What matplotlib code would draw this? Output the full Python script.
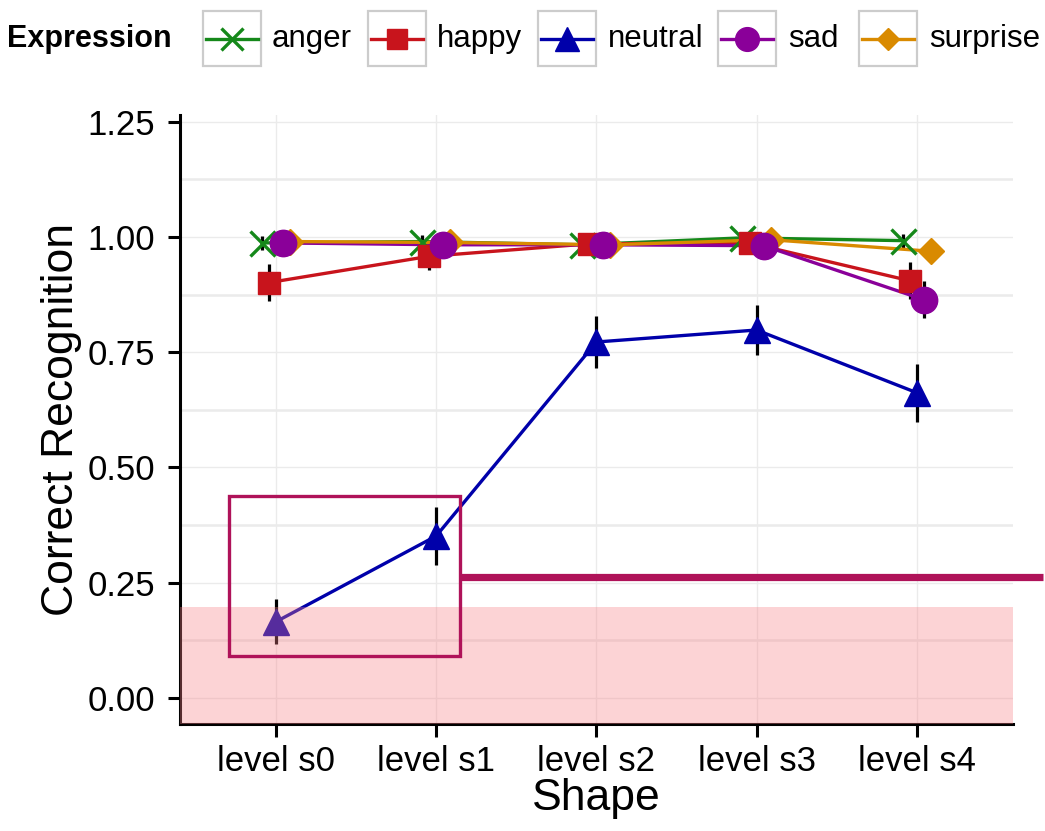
import matplotlib
matplotlib.use("Agg")
import matplotlib.pyplot as plt
from matplotlib.lines import Line2D
from matplotlib.patches import Rectangle
import numpy as np

plt.rcParams['font.family'] = ['Liberation Sans', 'DejaVu Sans']

# DATA
levels = ['level s0', 'level s1', 'level s2', 'level s3', 'level s4']
expressions = ['anger', 'happy', 'neutral', 'sad', 'surprise']

anger = [0.987, 0.990, 0.983, 0.998, 0.992]
happy = [0.901, 0.958, 0.985, 0.987, 0.905]
neutral = [0.165, 0.351, 0.772, 0.798, 0.662]
sad = [0.987, 0.983, 0.983, 0.981, 0.864]
surprise = [0.990, 0.988, 0.983, 0.994, 0.969]

anger_se = [0.015, 0.015, 0.015, 0.010, 0.015]
happy_se = [0.041, 0.030, 0.015, 0.015, 0.040]
neutral_se = [0.049, 0.062, 0.057, 0.055, 0.063]
sad_se = [0.015, 0.015, 0.010, 0.015, 0.041]
surprise_se = [0.010, 0.010, 0.010, 0.010, 0.020]

chance_level = 0.196      # shaded band top
hl_x = [-0.293, 1.149]    # highlight box
hl_y = [0.091, 0.438]
hl_line_y = 0.263

# STYLE
colors = {'anger': '#15881A', 'happy': '#C8141C', 'neutral': '#0000AA',
          'sad': '#8A0099', 'surprise': '#D98A00'}
markers = {'anger': 'x', 'happy': 's', 'neutral': '^', 'sad': 'o', 'surprise': 'D'}
msizes = {'anger': 18, 'happy': 16.5, 'neutral': 19, 'sad': 19, 'surprise': 13}
values = {'anger': anger, 'happy': happy, 'neutral': neutral, 'sad': sad, 'surprise': surprise}
errors = {'anger': anger_se, 'happy': happy_se, 'neutral': neutral_se, 'sad': sad_se,
          'surprise': surprise_se}
dodge = {'anger': -0.088, 'happy': -0.044, 'neutral': 0.0, 'sad': 0.044, 'surprise': 0.088}
pzorder = {'anger': 4, 'happy': 4.2, 'neutral': 4.1, 'sad': 4.4, 'surprise': 4.3}

fig = plt.figure(figsize=(10.45, 8.31), dpi=100)
ax = fig.add_axes([0.1722, 0.1288, 0.797, 0.733])

x = np.arange(len(levels))

# grid
for yy in np.arange(0.125, 1.26, 0.25):
    ax.axhline(yy, color='#EBEBEB', lw=1.8, zorder=0)
for yy in np.arange(0, 1.26, 0.25):
    ax.axhline(yy, color='#EBEBEB', lw=1.0, zorder=0)
for xx in x:
    ax.axvline(xx, color='#EBEBEB', lw=1.0, zorder=0)

for e in expressions:
    xs = x + dodge[e]
    ys = np.array(values[e])
    ax.errorbar(xs, ys, yerr=errors[e], fmt='none', ecolor='black', elinewidth=2.3,
                capsize=0, zorder=2)
    ax.plot(xs, ys, color=colors[e], lw=2.4, zorder=3)
    ax.plot(xs, ys, linestyle='none', marker=markers[e], ms=msizes[e], color=colors[e],
            mec=colors[e], mew=2.4 if e == 'anger' else 1.0, zorder=pzorder[e])

# shaded band
ax.axhspan(-0.1, chance_level, color=(249/255, 129/255, 135/255), alpha=0.35,
           lw=0, zorder=5)

# highlight box and pointer line
ax.add_patch(Rectangle((hl_x[0], hl_y[0]), hl_x[1] - hl_x[0], hl_y[1] - hl_y[0],
                       fill=False, ec='#AF1259', lw=2.4, zorder=6, clip_on=False))
ax.plot([hl_x[1], 4.79], [hl_line_y, hl_line_y], color='#AF1259', lw=5.2,
        solid_capstyle='butt', zorder=6, clip_on=False)

ax.set_xlim(-0.6, 4.6)
ax.set_ylim(-0.057, 1.265)
ax.set_xticks(x)
ax.set_xticklabels(levels)
ax.set_yticks([0, 0.25, 0.5, 0.75, 1.0, 1.25])
ax.set_yticklabels(['0.00', '0.25', '0.50', '0.75', '1.00', '1.25'])
ax.tick_params(axis='both', labelsize=25, length=9, width=2.2, color='black')
ax.tick_params(axis='y', pad=9)
ax.tick_params(axis='x', pad=6)
for s in ['top', 'right']:
    ax.spines[s].set_visible(False)
for s in ['left', 'bottom']:
    ax.spines[s].set_linewidth(2.2)
ax.set_xlabel('Shape', fontsize=32, labelpad=0)
ax.set_ylabel('Correct Recognition', fontsize=32, labelpad=4)

# legend drawn by hand (ggplot style keys)
W, H = 1045.0, 831.0
fig.text(7 / W, 1 - 39 / H, 'Expression', fontsize=22, fontweight='bold',
         va='center', ha='left')
box_left = [203, 368, 538, 718, 859]
text_left = [272, 437, 608, 788, 929]
for e, bl, tl in zip(expressions, box_left, text_left):
    fig.patches.append(Rectangle((bl / W, 1 - 66 / H), 58 / W, 55 / H, fill=False,
                                 ec='#CCCCCC', lw=1.6, transform=fig.transFigure))
    fig.lines.append(Line2D([(bl + 3) / W, (bl + 55) / W], [1 - 39 / H, 1 - 39 / H],
                            color=colors[e], lw=2.4, transform=fig.transFigure))
    fig.lines.append(Line2D([(bl + 29) / W], [1 - 39 / H], marker=markers[e],
                            ms=msizes[e] * 0.9, color=colors[e], mec=colors[e],
                            mew=2.4 if e == 'anger' else 1.0,
                            transform=fig.transFigure))
    fig.text(tl / W, 1 - 39 / H, e, fontsize=22.5, va='center', ha='left')

fig.savefig('out.png', dpi=100)
